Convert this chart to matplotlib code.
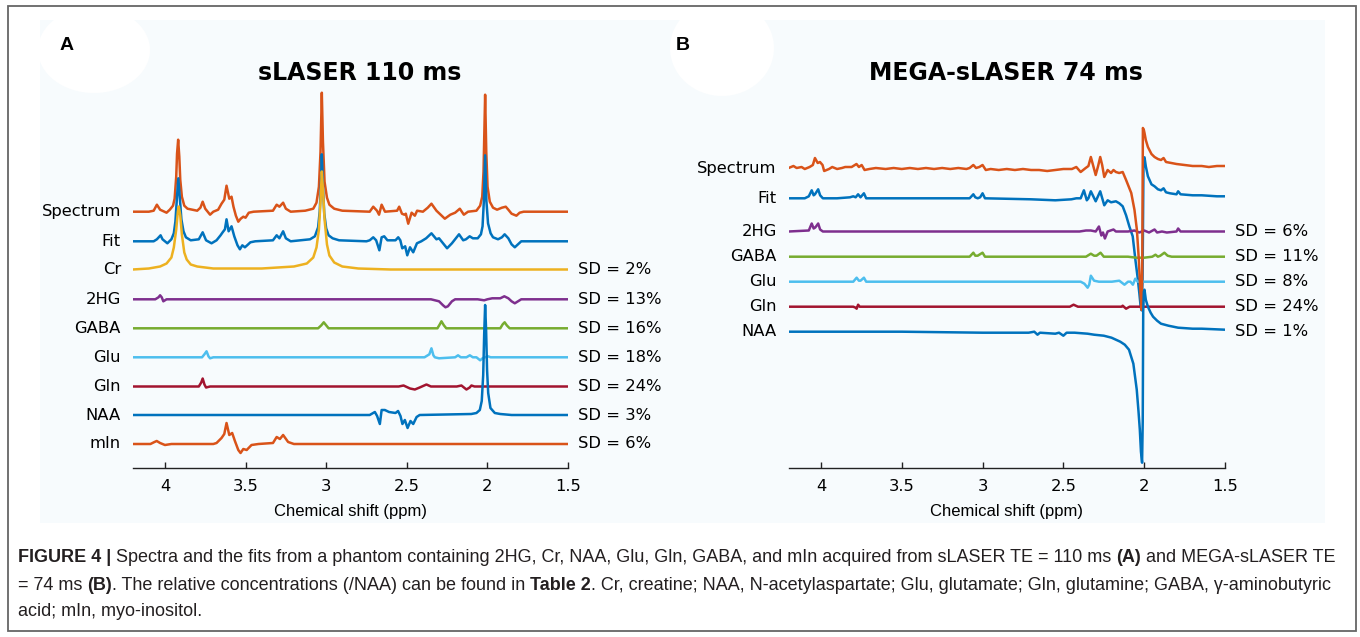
import matplotlib
matplotlib.use('Agg')
import matplotlib.pyplot as plt
from matplotlib.patches import Rectangle, Ellipse

W, H = 1360, 637

# ---------------- data ----------------
# each trace: (ppm, signal above its own baseline, in screen px)

# panel A : sLASER 110 ms
spec_a = [(4.20, 0), (4.10, 0), (4.07, 1), (4.05, 7), (4.03, 2), (3.99, -1), (3.97, 2), (3.95, 6),
          (3.94, 13), (3.93, 35), (3.925, 58), (3.918, 72), (3.911, 55), (3.905, 32), (3.895, 15),
          (3.88, 6), (3.86, 3), (3.80, 1), (3.78, 4), (3.766, 10), (3.75, 3), (3.72, -3), (3.70, 0),
          (3.67, 2), (3.649, 8), (3.632, 12), (3.618, 26), (3.601, 13), (3.587, 15), (3.575, 5),
          (3.56, -4), (3.545, -10), (3.53, -7), (3.514, -5), (3.50, -6), (3.48, -1), (3.45, 0),
          (3.33, 1), (3.307, 7), (3.29, 5), (3.267, 9), (3.25, 3), (3.22, 0), (3.13, 1), (3.08, 3),
          (3.06, 9), (3.045, 25), (3.035, 60), (3.027, 119), (3.02, 70), (3.01, 30), (2.995, 14),
          (2.98, 7), (2.95, 3), (2.90, 1), (2.73, 0), (2.708, 5), (2.685, 1), (2.672, -3),
          (2.656, 7), (2.635, 0), (2.56, 1), (2.547, 5), (2.53, -2), (2.515, -3), (2.506, -2),
          (2.491, -12), (2.47, -1), (2.45, -4), (2.436, 1), (2.40, 0), (2.37, 4), (2.347, 8),
          (2.316, 1), (2.29, -3), (2.264, -7), (2.23, -3), (2.20, -1), (2.171, 3), (2.146, -3),
          (2.12, 0), (2.068, 1), (2.045, 6), (2.032, 15), (2.024, 40), (2.014, 117), (2.007, 60),
          (1.999, 25), (1.985, 10), (1.965, 4), (1.94, 2), (1.91, 4), (1.886, 5), (1.87, 2),
          (1.85, -2), (1.82, -4), (1.80, -1), (1.775, 0), (1.50, 0)]

fit_a = [(4.20, 0), (4.07, 0), (4.05, 2), (4.027, 6), (4.015, 2), (4.00, 0), (3.985, -2),
         (3.96, 2), (3.945, 8), (3.935, 20), (3.925, 45), (3.917, 63), (3.908, 44), (3.898, 22),
         (3.885, 10), (3.87, 4), (3.84, 1), (3.79, 2), (3.766, 9), (3.745, 1), (3.711, -2),
         (3.68, 1), (3.655, 6), (3.642, 9), (3.628, 12), (3.618, 22), (3.605, 10), (3.587, 15),
         (3.57, 5), (3.55, -4), (3.535, -8), (3.52, -4), (3.504, -6), (3.49, -4), (3.47, -1),
         (3.44, 0), (3.33, 1), (3.307, 6), (3.29, 3), (3.267, 10), (3.25, 3), (3.22, 0),
         (3.10, 2), (3.07, 5), (3.05, 14), (3.04, 30), (3.032, 58), (3.027, 87), (3.02, 55),
         (3.012, 28), (3.00, 13), (2.985, 6), (2.96, 3), (2.92, 1), (2.75, 0), (2.73, 1),
         (2.708, 4), (2.69, 1), (2.67, -9), (2.656, 4), (2.64, 5), (2.62, 1), (2.57, 1),
         (2.553, 4), (2.54, 1), (2.528, -7), (2.51, -5), (2.497, -14), (2.48, -6), (2.46, -11),
         (2.437, -2), (2.41, 0), (2.38, 3), (2.347, 8), (2.316, 2), (2.30, 3), (2.25, -7),
         (2.22, -2), (2.176, 7), (2.15, 1), (2.133, 2), (2.11, 5), (2.09, 3), (2.06, 3),
         (2.04, 7), (2.03, 15), (2.022, 40), (2.014, 86), (2.006, 40), (1.996, 18), (1.98, 8),
         (1.965, 4), (1.934, 2), (1.91, 4), (1.893, 7), (1.87, 3), (1.85, -3), (1.83, -6),
         (1.81, -3), (1.79, 0), (1.50, 0)]

cr_a = [(4.20, 0), (4.10, 1), (4.03, 3), (3.99, 6), (3.96, 12), (3.945, 22), (3.93, 40),
        (3.92, 58), (3.914, 63), (3.905, 54), (3.895, 35), (3.88, 17), (3.865, 10), (3.84, 5),
        (3.80, 3), (3.70, 1), (3.40, 1), (3.20, 3), (3.12, 6), (3.08, 12), (3.06, 22),
        (3.045, 40), (3.035, 68), (3.027, 98), (3.02, 80), (3.01, 50), (2.995, 25), (2.98, 14),
        (2.95, 7), (2.90, 3), (2.80, 1), (2.60, 0), (1.50, 0)]

hg_a = [(4.20, 0), (4.06, 0), (4.04, 2), (4.03, 4), (4.02, 2), (4.01, -2), (3.99, 0),
        (2.35, 0), (2.30, -2), (2.275, -6), (2.26, -8), (2.245, -7), (2.22, -2), (2.20, 0),
        (2.06, 0), (2.02, -1), (2.00, 0), (1.97, 1), (1.92, 1), (1.895, 3), (1.87, 1),
        (1.85, -2), (1.83, -4), (1.81, -2), (1.79, 0), (1.50, 0)]

gaba_a = [(4.20, 0), (3.05, 0), (3.03, 3), (3.015, 6), (3.00, 3), (2.985, 0), (2.31, 0),
          (2.295, 4), (2.285, 7), (2.27, 3), (2.255, 0), (1.92, 0), (1.905, 4), (1.893, 6),
          (1.88, 3), (1.862, 0), (1.50, 0)]

glu_a = [(4.20, 0), (3.77, 0), (3.755, 3), (3.742, 6), (3.73, 1), (3.72, -1), (3.70, 0),
         (2.39, 0), (2.36, 3), (2.347, 9), (2.335, 2), (2.326, 0), (2.30, -1), (2.20, 0),
         (2.182, 2), (2.165, 0), (2.13, 0), (2.109, 2), (2.09, 0), (2.068, 0), (2.045, -3),
         (2.03, -1), (2.015, 0), (1.996, 1), (1.98, 0), (1.50, 0)]

gln_a = [(4.20, 0), (3.79, 0), (3.775, 4), (3.766, 8), (3.755, 2), (3.745, -1), (3.72, 0),
         (2.55, 0), (2.52, 1), (2.48, -2), (2.45, -3), (2.42, -1), (2.378, 2), (2.35, 0),
         (2.19, 0), (2.161, 1), (2.13, -3), (2.11, -1), (2.099, 1), (2.08, 0), (1.50, 0)]

naa_a = [(4.20, 0), (2.73, 0), (2.698, 3), (2.684, -1), (2.667, -9), (2.656, 5), (2.636, 5),
         (2.61, 3), (2.57, 2), (2.554, 4), (2.539, -1), (2.527, -9), (2.512, -5), (2.495, -13),
         (2.477, -6), (2.46, -9), (2.439, -2), (2.42, 0), (2.10, 1), (2.068, 2), (2.047, 5),
         (2.035, 14), (2.026, 40), (2.02, 80), (2.014, 110), (2.008, 85), (2.002, 45),
         (1.995, 22), (1.981, 7), (1.954, 2), (1.92, 1), (1.85, 0), (1.50, 0)]

min_a = [(4.20, 0), (4.09, 0), (4.065, 2), (4.051, 3), (4.03, 1), (4.00, -1), (3.96, 0),
         (3.70, 0), (3.68, 1), (3.649, 6), (3.632, 10), (3.618, 21), (3.601, 9), (3.583, 11),
         (3.566, 3), (3.545, -6), (3.531, -9), (3.514, -5), (3.493, -6), (3.463, -1), (3.42, 0),
         (3.33, 1), (3.307, 7), (3.287, 5), (3.267, 9), (3.236, 2), (3.20, 0), (1.50, 0)]

# panel B : MEGA-sLASER 74 ms
spec_b = [(4.20, 0), (4.17, 2), (4.15, 0), (4.12, 1), (4.10, -1), (4.07, 1), (4.05, 3),
          (4.037, 10), (4.02, 5), (4.006, 6), (3.99, 3), (3.98, -3), (3.95, -1), (3.93, 1),
          (3.90, -1), (3.87, 0), (3.85, 1), (3.81, 1), (3.78, 4), (3.765, 1), (3.748, 3),
          (3.73, -2), (3.70, -1), (3.66, 0), (3.60, -1), (3.55, 0), (3.50, -1), (3.45, 0),
          (3.40, -1), (3.35, 0), (3.30, -1), (3.25, 0), (3.20, -1), (3.15, 0), (3.10, -1),
          (3.08, 0), (3.057, 3), (3.04, 0), (3.02, 1), (3.00, 3), (2.98, -2), (2.95, -1),
          (2.90, -2), (2.85, -1), (2.80, -2), (2.75, -1), (2.70, -2), (2.65, -2), (2.60, -3),
          (2.55, -2), (2.50, -1), (2.447, -1), (2.42, 1), (2.393, -4), (2.362, 0), (2.345, 2),
          (2.33, 11), (2.315, 2), (2.30, -7), (2.285, 2), (2.272, 11), (2.26, 3), (2.247, -9),
          (2.226, -2), (2.205, -5), (2.19, -2), (2.175, -4), (2.155, -5), (2.133, -4),
          (2.112, -12), (2.08, -25), (2.06, -42), (2.045, -62), (2.033, -92), (2.023, -125),
          (2.016, -142), (2.012, -100), (2.008, 40), (2.002, 38), (1.998, 35), (1.99, 28),
          (1.977, 21), (1.955, 14), (1.936, 11), (1.915, 9), (1.896, 8), (1.88, 10),
          (1.865, 6), (1.832, 5), (1.80, 4), (1.75, 3), (1.70, 2), (1.644, 2), (1.60, 1),
          (1.55, 2), (1.50, 2)]

fit_b = [(4.20, 0), (4.10, 0), (4.075, 2), (4.057, 8), (4.045, 3), (4.037, 4), (4.017, 9),
         (4.005, 3), (3.988, 0), (3.90, 0), (3.82, 1), (3.80, 2), (3.785, 1), (3.77, 4),
         (3.755, 1), (3.734, 5), (3.72, 0), (3.50, 0), (3.08, 0), (3.057, 4), (3.045, 1),
         (3.03, 0), (3.015, 1), (3.00, 5), (2.985, 0), (2.70, -1), (2.55, -2), (2.45, -1),
         (2.42, 0), (2.393, 0), (2.373, 8), (2.355, -2), (2.345, 0), (2.33, 7), (2.30, -3),
         (2.272, 7), (2.247, -7), (2.226, -2), (2.205, -4), (2.175, -3), (2.154, -5),
         (2.133, -8), (2.112, -17), (2.092, -28), (2.071, -38), (2.054, -62), (2.04, -80),
         (2.03, -95), (2.022, -108), (2.016, -112), (2.01, -80), (2.004, 40), (1.998, 41),
         (1.99, 32), (1.977, 22), (1.955, 14), (1.936, 12), (1.915, 9), (1.896, 8), (1.88, 10),
         (1.865, 6), (1.84, 5), (1.80, 4), (1.79, 7), (1.775, 4), (1.70, 3), (1.644, 3),
         (1.55, 2), (1.50, 2)]

hg_b = [(4.20, 0), (4.075, 1), (4.057, 8), (4.045, 3), (4.035, 4), (4.017, 8), (4.005, 2),
        (3.988, 0), (2.40, 0), (2.36, 1), (2.33, 1), (2.30, 0), (2.28, 5), (2.265, -4),
        (2.255, -1), (2.243, -7), (2.226, 0), (2.19, 2), (2.175, 0), (2.10, 0), (2.06, 1),
        (2.03, -1), (2.00, 1), (1.97, -1), (1.936, 2), (1.92, -1), (1.89, 0), (1.86, -1),
        (1.80, 0), (1.79, 3), (1.775, 0), (1.50, 0)]

gaba_b = [(4.20, 0), (3.08, 0), (3.057, 4), (3.045, 1), (3.03, 1), (3.00, 4), (2.985, 0),
          (2.36, 0), (2.33, 3), (2.31, 1), (2.295, 1), (2.27, 4), (2.25, 0), (2.10, 0),
          (2.05, -1), (2.00, -1), (1.95, 0), (1.93, 2), (1.915, 0), (1.90, 1), (1.875, 4),
          (1.855, 1), (1.83, 0), (1.50, 0)]

glu_b = [(4.20, 0), (3.80, 0), (3.779, 4), (3.765, 1), (3.755, 1), (3.734, 4), (3.72, 0),
         (2.42, 0), (2.393, 0), (2.37, -2), (2.35, -6), (2.34, -3), (2.33, 6), (2.31, 1),
         (2.28, 0), (2.20, 0), (2.154, 1), (2.122, -3), (2.10, 0), (2.085, 0), (2.07, -3),
         (2.055, 3), (2.04, 0), (2.00, 0), (1.50, 0)]

gln_b = [(4.20, 0), (3.80, 0), (3.785, -1), (3.779, -2), (3.77, 2), (3.76, 0), (2.46, 0),
         (2.437, 2), (2.41, 0), (2.14, 0), (2.133, 1), (2.112, -2), (2.09, 0), (1.50, 0)]

naa_b = [(4.20, 0), (3.50, 0), (3.00, -1), (2.75, -1), (2.715, -1), (2.68, 0), (2.66, -3),
         (2.645, -1), (2.55, -2), (2.527, -1), (2.50, -4), (2.48, -1), (2.431, -1), (2.35, -2),
         (2.31, -3), (2.25, -4), (2.202, -6), (2.148, -10), (2.12, -13), (2.094, -18),
         (2.067, -32), (2.046, -58), (2.035, -80), (2.027, -98), (2.02, -120), (2.013, -131),
         (2.009, -90), (2.006, 20), (2.002, 40), (1.998, 42), (1.99, 32), (1.977, 25),
         (1.96, 19), (1.945, 15), (1.92, 11), (1.896, 8), (1.85, 6), (1.79, 4), (1.70, 3),
         (1.644, 3), (1.50, 2)]

names_a = ['Spectrum', 'Fit', 'Cr', '2HG', 'GABA', 'Glu', 'Gln', 'NAA', 'mIn']
sd_a = [None, None, '2%', '13%', '16%', '18%', '24%', '3%', '6%']
traces_a = [spec_a, fit_a, cr_a, hg_a, gaba_a, glu_a, gln_a, naa_a, min_a]

names_b = ['Spectrum', 'Fit', '2HG', 'GABA', 'Glu', 'Gln', 'NAA']
sd_b = [None, None, '6%', '11%', '8%', '24%', '1%']
traces_b = [spec_b, fit_b, hg_b, gaba_b, glu_b, gln_b, naa_b]

ticks = [4, 3.5, 3, 2.5, 2, 1.5]
tick_labels = ['4', '3.5', '3', '2.5', '2', '1.5']

# ---------------- layout / style ----------------
ORANGE, BLUE, YELLOW = '#D95319', '#0072BD', '#EDB120'
PURPLE, GREEN, CYAN, RED = '#7E2F8E', '#77AC30', '#4DBEEE', '#A2142F'
colors_a = [ORANGE, BLUE, YELLOW, PURPLE, GREEN, CYAN, RED, BLUE, ORANGE]
colors_b = [ORANGE, BLUE, PURPLE, GREEN, CYAN, RED, BLUE]
base_a = [211.7, 241.3, 269.5, 299.3, 328.3, 357.3, 386.5, 415.0, 444.0]
base_b = [168.0, 198.3, 231.5, 256.7, 281.7, 306.7, 331.7]
zorder_b = [6, 2, 3, 3, 3, 3, 7]

fig = plt.figure(figsize=(W / 100, H / 100), dpi=100)
fig.patch.set_facecolor('white')

def fig_rect(x0, y0, x1, y1, **kw):
    r = Rectangle((x0 / W, 1 - y1 / H), (x1 - x0) / W, (y1 - y0) / H,
                  transform=fig.transFigure, **kw)
    fig.add_artist(r)
    return r

fig_rect(40, 20, 1325, 523, facecolor='#F7FBFD', edgecolor='none', zorder=-10)
for cx, cy, ew, eh in [(94, 50, 112, 86), (722, 48, 104, 96)]:
    fig.add_artist(Ellipse((cx / W, 1 - cy / H), ew / W, eh / H, transform=fig.transFigure,
                           facecolor='white', edgecolor='none', zorder=-9))
fig_rect(8, 6, 1356, 631, facecolor='none', edgecolor='#666666', linewidth=1.3, zorder=-8)


def panel(x0, x1, traces, names, sds, colors, bases, zorders=None):
    ax = fig.add_axes([x0 / W, 1 - 468 / H, (x1 - x0) / W, (468 - 85) / H])
    ax.patch.set_alpha(0)
    for i, tr in enumerate(traces):
        ppm = [p for p, v in tr]
        sig = [v - bases[i] for p, v in tr]
        z = zorders[i] if zorders else 2 + i * 0.1
        ax.plot(ppm, sig, color=colors[i], lw=1.8, zorder=z, solid_joinstyle='round')
        ax.annotate(names[i], xy=(0, -bases[i]), xycoords=('axes fraction', 'data'),
                    xytext=(-8.5, 0), textcoords='offset points', ha='right', va='center',
                    fontsize=11.8)
        if sds[i]:
            ax.annotate('SD = ' + sds[i], xy=(1, -bases[i]), xycoords=('axes fraction', 'data'),
                        xytext=(7.5, 0), textcoords='offset points', ha='left', va='center',
                        fontsize=11.8)
    ax.set_xlim(4.2, 1.5)
    ax.set_ylim(-468, -85)
    ax.set_yticks([])
    for s in ['top', 'left', 'right']:
        ax.spines[s].set_visible(False)
    ax.spines['bottom'].set_linewidth(1.0)
    ax.spines['bottom'].set_color('#222222')
    ax.set_xticks(ticks, tick_labels)
    ax.tick_params(axis='x', direction='in', length=4, width=1, labelsize=11.8, pad=8,
                   color='#222222')
    ax.set_xlabel('Chemical shift (ppm)', fontsize=12, family='Liberation Sans', labelpad=7)
    return ax


ax_a = panel(132.7, 568, traces_a, names_a, sd_a, colors_a, base_a)
ax_b = panel(788.6, 1225, traces_b, names_b, sd_b, colors_b, base_b, zorder_b)

fig.text(360 / W, 1 - 73 / H, 'sLASER 110 ms', ha='center', va='center',
         fontsize=17, fontweight='bold')
fig.text(1006 / W, 1 - 73 / H, 'MEGA-sLASER 74 ms', ha='center', va='center',
         fontsize=17, fontweight='bold')
fig.text(60 / W, 1 - 45.5 / H, 'A', ha='left', va='center', fontsize=14,
         fontweight='bold', family='Liberation Sans')
fig.text(676 / W, 1 - 45.5 / H, 'B', ha='left', va='center', fontsize=14,
         fontweight='bold', family='Liberation Sans')

# ---------------- caption ----------------
cap_lines = [
    [('FIGURE 4 |', True),
     (' Spectra and the fits from a phantom containing 2HG, Cr, NAA, Glu, Gln, GABA, and mIn '
      'acquired from sLASER TE = 110 ms ', False), ('(A)', True), (' and MEGA-sLASER TE', False)],
    [('= 74 ms ', False), ('(B)', True), ('. The relative concentrations (/NAA) can be found in ', False),
     ('Table 2', True), ('. Cr, creatine; NAA, N-acetylaspartate; Glu, glutamate; Gln, glutamine; '
                         'GABA, \u03b3-aminobutyric', False)],
    [('acid; mIn, myo-inositol.', False)],
]
cap_y = [558, 585, 612]
renderer = fig.canvas.get_renderer()


def text_w(s, size, bold):
    t = fig.text(0, 0, s, fontsize=size, family='Liberation Sans',
                 fontweight='bold' if bold else 'normal')
    w = t.get_window_extent(renderer).width
    t.remove()
    return w


def piece_w(s, size, bold):
    return text_w('x' + s + 'x', size, bold) - text_w('xx', size, bold)


size0 = 12.0
line1_w = sum(piece_w(s, size0, b) for s, b in cap_lines[0])
cap_size = size0 * (1340 - 18) / line1_w

for pieces, y in zip(cap_lines, cap_y):
    x = 18
    for s, b in pieces:
        lead = len(s) - len(s.lstrip(' '))
        x_start = x + (piece_w(' ' * lead, cap_size, b) if lead else 0)
        fig.text(x_start / W, 1 - y / H, s.strip(' '), fontsize=cap_size, family='Liberation Sans',
                 fontweight='bold' if b else 'normal', ha='left', va='center', color='#231F20')
        x += piece_w(s, cap_size, b)

fig.savefig('out.png', dpi=100)
